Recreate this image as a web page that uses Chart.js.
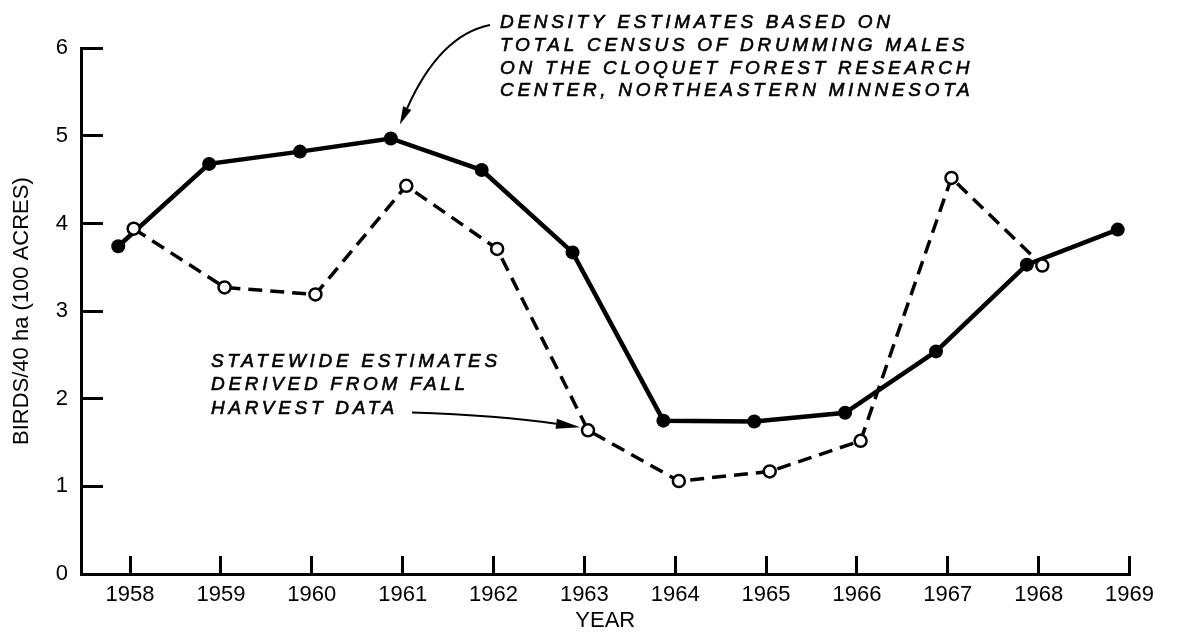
<!DOCTYPE html>
<html>
<head>
<meta charset="utf-8">
<script src="https://cdn.jsdelivr.net/npm/chart.js@4/dist/chart.umd.min.js"></script>
<style>
  html, body { margin: 0; padding: 0; background: #fff; }
  #wrap { width: 1180px; height: 636px; }
</style>
</head>
<body>
<div id="wrap"><canvas id="c" width="1180" height="636"></canvas></div>
<script>
// ---- data ----
const cloquetYears = [1958, 1959, 1960, 1961, 1962, 1963, 1964, 1965, 1966, 1967, 1968, 1969];
const cloquetDensity = [3.74, 4.68, 4.82, 4.97, 4.61, 3.67, 1.75, 1.74, 1.84, 2.54, 3.53, 3.93];
const statewideYears = [1958, 1959, 1960, 1961, 1962, 1963, 1964, 1965, 1966, 1967, 1968];
const statewideDensity = [3.94, 3.27, 3.19, 4.43, 3.71, 1.64, 1.06, 1.17, 1.52, 4.52, 3.52];
const xTickYears = [1958, 1959, 1960, 1961, 1962, 1963, 1964, 1965, 1966, 1967, 1968, 1969];
const yTickValues = [0, 1, 2, 3, 4, 5, 6];
const xTitle = 'YEAR';
const yTitle = 'BIRDS/40 ha (100 ACRES)';
const cloquetNote = [
  'DENSITY ESTIMATES BASED ON',
  'TOTAL CENSUS OF DRUMMING MALES',
  'ON THE CLOQUET FOREST RESEARCH',
  'CENTER, NORTHEASTERN MINNESOTA'
];
const statewideNote = [
  'STATEWIDE ESTIMATES',
  'DERIVED FROM FALL',
  'HARVEST DATA'
];

// ---- styling / layout ----
const CLOQUET_SHIFT = -0.13;   // drawn slightly left of the year tick in the original
const STATEWIDE_SHIFT = 0.04;
const FONT = '"Liberation Sans", Arial, Helvetica, sans-serif';

const toPoints = (xs, ys, shift) => xs.map((x, i) => ({ x: x + shift, y: ys[i] }));

function arrowHead(ctx, fromX, fromY, tipX, tipY, len, half) {
  const a = Math.atan2(tipY - fromY, tipX - fromX);
  const bx = tipX - len * Math.cos(a), by = tipY - len * Math.sin(a);
  ctx.beginPath();
  ctx.moveTo(tipX, tipY);
  ctx.lineTo(bx + half * Math.sin(a), by - half * Math.cos(a));
  ctx.lineTo(bx - half * Math.sin(a), by + half * Math.cos(a));
  ctx.closePath();
  ctx.fill();
  return { bx, by };
}

const notesPlugin = {
  id: 'notes',
  afterDatasetsDraw(chart) {
    const ctx = chart.ctx;
    ctx.save();
    ctx.fillStyle = '#000';
    ctx.strokeStyle = '#000';
    ctx.font = 'italic 19px ' + FONT;
    if ('letterSpacing' in ctx) ctx.letterSpacing = '3.7px';
    ctx.textBaseline = 'middle';
    ctx.textAlign = 'left';
    ctx.lineWidth = 0.6;
    cloquetNote.forEach((t, i) => {
      ctx.fillText(t, 500, 23 + i * 22.7);
      ctx.strokeText(t, 500, 23 + i * 22.7);
    });
    statewideNote.forEach((t, i) => {
      ctx.fillText(t, 211, 361.5 + i * 23.5);
      ctx.strokeText(t, 211, 361.5 + i * 23.5);
    });
    if ('letterSpacing' in ctx) ctx.letterSpacing = '0px';

    // arrow to Cloquet 1961 point
    const cMeta = chart.getDatasetMeta(1);
    const p1 = cMeta.data[3];
    const tip1 = { x: p1.x + 9, y: p1.y - 14 };
    const s1 = { x: 490, y: 25 }, c1 = { x: 440, y: 35 };
    const h1 = arrowHead(ctx, c1.x, c1.y, tip1.x, tip1.y, 18, 4.5);
    ctx.lineWidth = 2;
    ctx.beginPath();
    ctx.moveTo(s1.x, s1.y);
    ctx.quadraticCurveTo(c1.x, c1.y, h1.bx, h1.by);
    ctx.stroke();

    // arrow to statewide 1963 point
    const sMeta = chart.getDatasetMeta(0);
    const p2 = sMeta.data[5];
    const tip2 = { x: p2.x - 8, y: p2.y - 3 };
    const s2 = { x: 412, y: 412.5 }, c2 = { x: 500, y: 415.5 };
    const h2 = arrowHead(ctx, c2.x, c2.y, tip2.x, tip2.y, 24, 5);
    ctx.lineWidth = 2;
    ctx.beginPath();
    ctx.moveTo(s2.x, s2.y);
    ctx.quadraticCurveTo(c2.x, c2.y, h2.bx, h2.by);
    ctx.stroke();
    ctx.restore();
  }
};

new Chart(document.getElementById('c'), {
  type: 'line',
  data: {
    datasets: [
      {
        label: 'Statewide',
        data: toPoints(statewideYears, statewideDensity, STATEWIDE_SHIFT),
        borderColor: '#000',
        borderWidth: 3.5,
        borderDash: [14, 8],
        pointRadius: 6,
        pointBackgroundColor: '#fff',
        pointBorderColor: '#000',
        pointBorderWidth: 2.5,
        tension: 0,
        fill: false
      },
      {
        label: 'Cloquet',
        data: toPoints(cloquetYears, cloquetDensity, CLOQUET_SHIFT),
        borderColor: '#000',
        borderWidth: 4.5,
        pointRadius: 7,
        pointBackgroundColor: '#000',
        pointBorderColor: '#000',
        pointBorderWidth: 0,
        tension: 0,
        fill: false
      }
    ]
  },
  options: {
    responsive: false,
    animation: false,
    devicePixelRatio: 1,
    layout: { padding: { top: 34, right: 44, bottom: 0, left: 0 } },
    plugins: { legend: { display: false }, tooltip: { enabled: false } },
    scales: {
      x: {
        type: 'linear',
        min: 1957.46,
        max: 1969,
        afterFit: s => { s.height = 62; },
        afterBuildTicks: s => { s.ticks = xTickYears.map(v => ({ value: v })); },
        border: { display: true, color: '#000', width: 3 },
        grid: { drawOnChartArea: false, drawTicks: true, tickLength: -18, color: '#000', lineWidth: 3 },
        ticks: {
          autoSkip: false, maxRotation: 0, padding: 26, color: '#000',
          font: { family: FONT, size: 22 },
          callback: v => String(v)
        },
        title: { display: true, text: xTitle, color: '#000', font: { family: FONT, size: 22 }, padding: { top: 0, bottom: 2 } }
      },
      y: {
        type: 'linear',
        min: 0,
        max: 6,
        afterFit: s => { s.width = 81; },
        afterBuildTicks: s => { s.ticks = yTickValues.map(v => ({ value: v })); },
        border: { display: true, color: '#000', width: 3 },
        grid: { drawOnChartArea: false, drawTicks: true, tickLength: -22, color: '#000', lineWidth: 3 },
        ticks: {
          padding: 35, color: '#000',
          font: { family: FONT, size: 22 },
          callback: v => String(v)
        },
        title: { display: true, text: yTitle, color: '#000', font: { family: FONT, size: 22 }, padding: { top: 9, bottom: 0 } }
      }
    }
  },
  plugins: [notesPlugin]
});
</script>
</body>
</html>
